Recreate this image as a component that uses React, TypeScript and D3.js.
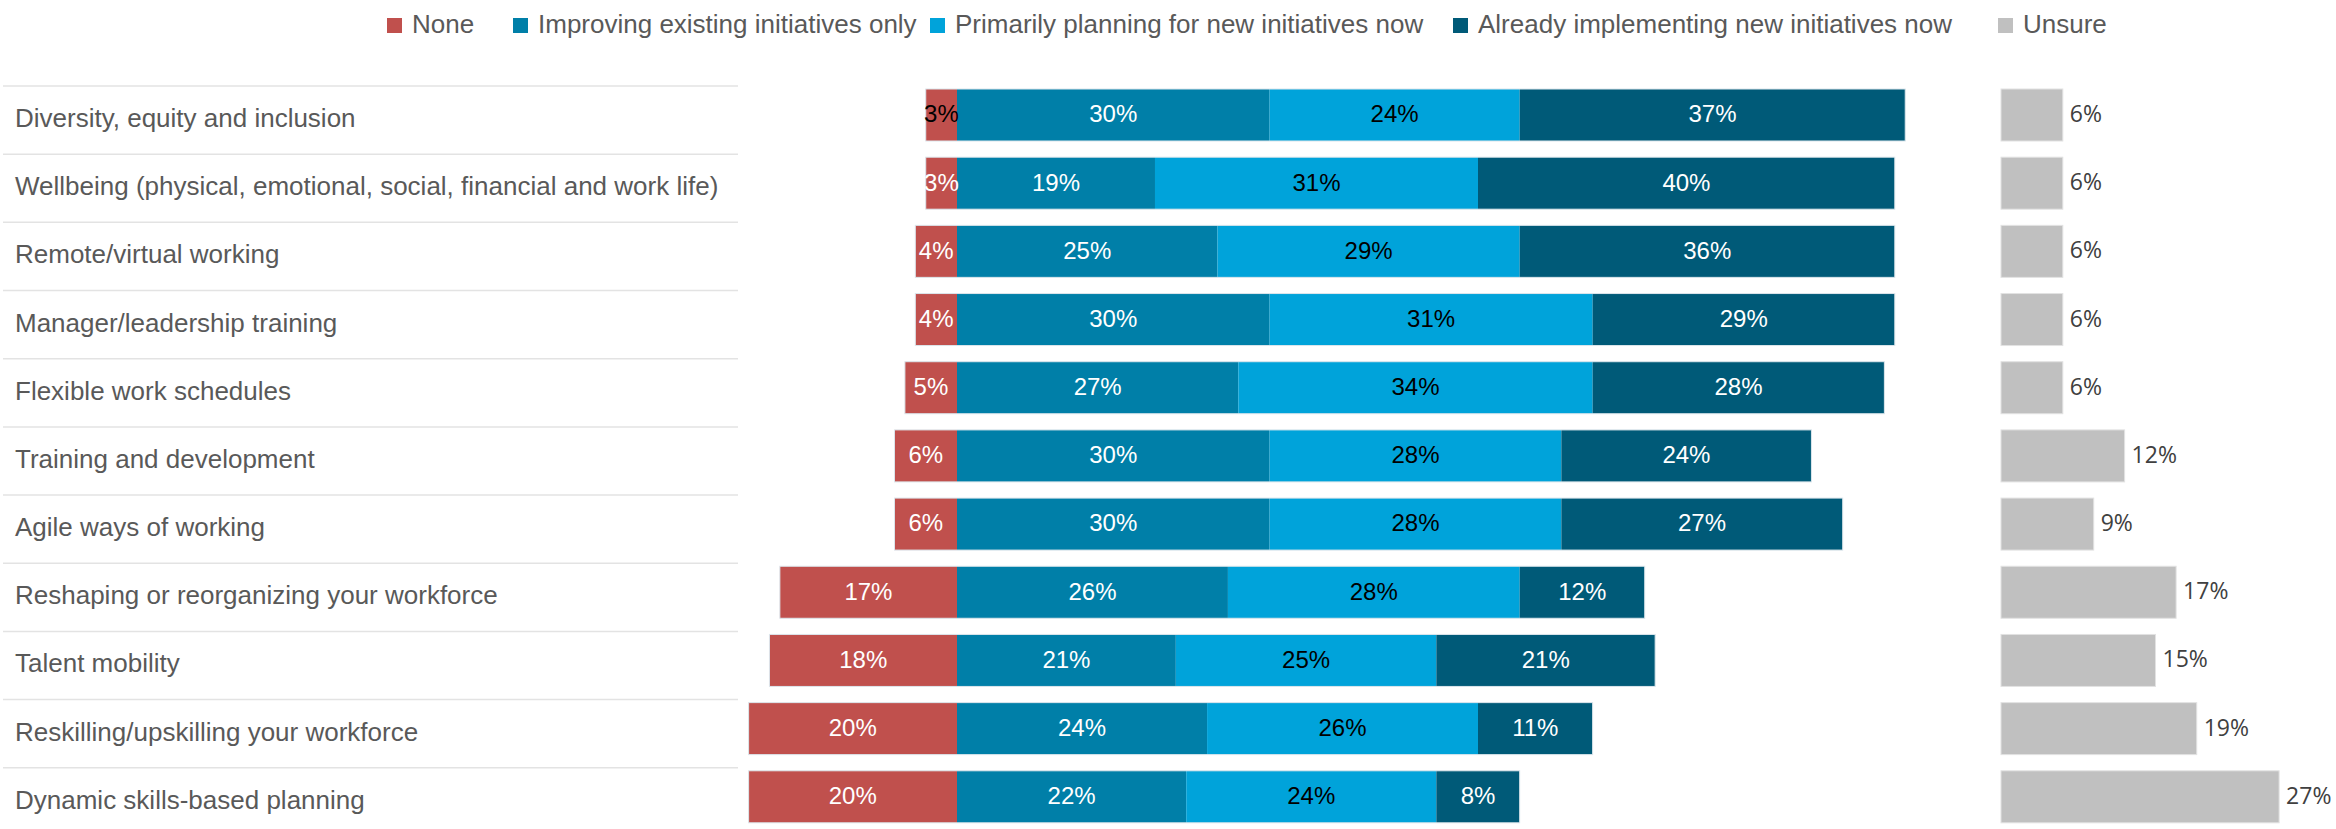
import React from "react";
import * as d3 from "d3";

const categories = [
  "Diversity, equity and inclusion",
  "Wellbeing (physical, emotional, social, financial and work life)",
  "Remote/virtual working",
  "Manager/leadership training",
  "Flexible work schedules",
  "Training and development",
  "Agile ways of working",
  "Reshaping or reorganizing your workforce",
  "Talent mobility",
  "Reskilling/upskilling your workforce",
  "Dynamic skills-based planning",
];

const seriesNames = [
  "None",
  "Improving existing initiatives only",
  "Primarily planning for new initiatives now",
  "Already implementing new initiatives now",
  "Unsure",
];

const none = [3, 3, 4, 4, 5, 6, 6, 17, 18, 20, 20];
const improving = [30, 19, 25, 30, 27, 30, 30, 26, 21, 24, 22];
const planning = [24, 31, 29, 31, 34, 28, 28, 28, 25, 26, 24];
const implementing = [37, 40, 36, 29, 28, 24, 27, 12, 21, 11, 8];
const unsure = [6, 6, 6, 6, 6, 12, 9, 17, 15, 19, 27];

const colors = ["#C0504D", "#007FA8", "#00A3DA", "#005A78", "#C0C0C0"];
const labelColors = ["#FFFFFF", "#FFFFFF", "#000000", "#FFFFFF"];

const W = 2336;
const H = 829;
const FONT = "'Liberation Sans', Arial, Helvetica, sans-serif";

export default function App() {
  const pxPerPct = 10.42;
  const zeroX = 957;
  const x = d3
    .scaleLinear()
    .domain([-20, 100])
    .range([zeroX - 20 * pxPerPct, zeroX + 100 * pxPerPct]);
  const unsureX0 = 2001;
  const xu = d3
    .scaleLinear()
    .domain([0, 30])
    .range([unsureX0, unsureX0 + 30 * 10.3]);
  const y = d3
    .scaleBand<string>()
    .domain(categories)
    .range([86, 86 + 68.18 * categories.length]);
  const barOff = 3;
  const barH = 52;

  const legendX = [387, 513, 930, 1453, 1998];

  return (
    <svg
      width={W}
      height={H}
      style={{ position: "absolute", left: 0, top: 0, display: "block", background: "#fff" }}
      fontFamily={FONT}
    >
      {/* legend */}
      {seriesNames.map((s, i) => (
        <g key={s}>
          <rect x={legendX[i]} y={18} width={15} height={15} fill={colors[i]} />
          <text x={legendX[i] + 25} y={33} fontSize={26} fill="#595959">
            {s}
          </text>
        </g>
      ))}

      {categories.map((c, i) => {
        const top = y(c) as number;
        const by = top + barOff;
        const cy = by + barH / 2;
        const segs: { v: number; x0: number; x1: number; k: number }[] = [];
        segs.push({ v: none[i], x0: x(-none[i]), x1: x(0), k: 0 });
        let acc = 0;
        [improving[i], planning[i], implementing[i]].forEach((v, j) => {
          segs.push({ v, x0: x(acc), x1: x(acc + v), k: j + 1 });
          acc += v;
        });
        return (
          <g key={c}>
            <line x1={3} x2={738} y1={top} y2={top} stroke="#E3E3E3" strokeWidth={1.5} />
            <text x={15} y={top + 41} fontSize={26} fill="#595959">
              {c}
            </text>
            {segs.map((s) => (
              <rect
                key={s.k}
                x={s.x0}
                y={by}
                width={s.x1 - s.x0}
                height={barH}
                fill={colors[s.k]}
              />
            ))}
            <rect
              x={segs[0].x0}
              y={by}
              width={segs[3].x1 - segs[0].x0}
              height={barH}
              fill="none"
              stroke="#DCE6EC"
              strokeWidth={1}
            />
            {segs.map((s) => (
              <text
                key={"t" + s.k}
                x={(s.x0 + s.x1) / 2}
                y={cy - 1}
                dy="0.35em"
                textAnchor="middle"
                fontSize={24}
                fill={s.k === 0 && i === 0 ? "#000000" : labelColors[s.k]}
              >
                {s.v}%
              </text>
            ))}
            <rect
              x={xu(0)}
              y={by}
              width={xu(unsure[i]) - xu(0)}
              height={barH}
              fill={colors[4]}
              stroke="#E2E2E2"
              strokeWidth={1}
            />
            <text
              x={xu(unsure[i]) + 7}
              y={cy - 1}
              dy="0.35em"
              fontSize={23}
              fill="#404040"
              fontFamily="'Open Sans', sans-serif"
            >
              {unsure[i]}%
            </text>
          </g>
        );
      })}
    </svg>
  );
}
